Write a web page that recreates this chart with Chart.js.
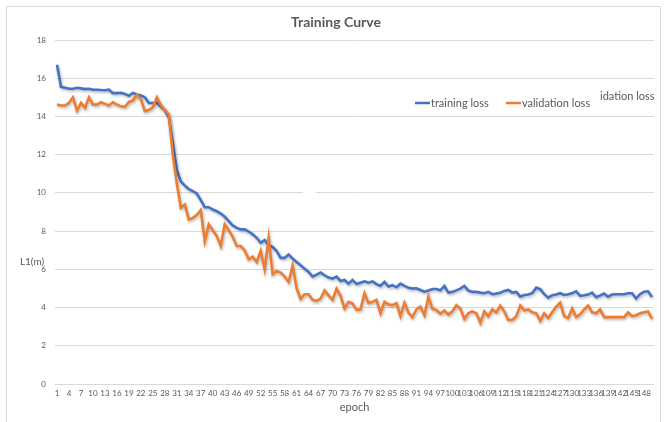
<!DOCTYPE html>
<html>
<head>
<meta charset="utf-8">
<script src="https://cdn.jsdelivr.net/npm/chart.js@4.4.1/dist/chart.umd.min.js"></script>
<style>
html,body{margin:0;padding:0;background:#fff;}
#wrap{width:669px;height:422px;position:relative;}
</style>
</head>
<body>
<div id="wrap"><canvas id="c" width="669" height="422"></canvas></div>
<script>
const epochs = [
1,2,3,4,5,6,7,8,9,10,11,12,13,14,15,16,17,18,19,20,
21,22,23,24,25,26,27,28,29,30,31,32,33,34,35,36,37,38,39,40,
41,42,43,44,45,46,47,48,49,50,51,52,53,54,55,56,57,58,59,60,
61,62,63,64,65,66,67,68,69,70,71,72,73,74,75,76,77,78,79,80,
81,82,83,84,85,86,87,88,89,90,91,92,93,94,95,96,97,98,99,100,
101,102,103,104,105,106,107,108,109,110,111,112,113,114,115,116,117,118,119,120,
121,122,123,124,125,126,127,128,129,130,131,132,133,134,135,136,137,138,139,140,
141,142,143,144,145,146,147,148,149,150];

const trainingLoss = [
16.7,15.55,15.5,15.45,15.45,15.5,15.47,15.43,15.45,15.4,
15.4,15.38,15.37,15.4,15.22,15.22,15.24,15.18,15.08,15.23,
15.15,15.1,15.0,14.7,14.7,14.72,14.5,14.33,13.95,12.6,
11.2,10.6,10.38,10.2,10.09,9.97,9.62,9.25,9.25,9.13,
9.04,8.92,8.75,8.52,8.3,8.17,8.09,8.09,7.98,7.83,
7.65,7.39,7.53,7.25,7.18,6.96,6.6,6.6,6.78,6.56,
6.38,6.21,6.03,5.86,5.62,5.72,5.83,5.69,5.57,5.51,
5.62,5.39,5.44,5.25,5.44,5.23,5.3,5.37,5.3,5.37,
5.23,5.13,5.34,5.1,5.17,5.06,5.25,5.13,5.04,4.99,
5.01,4.92,4.83,4.89,4.97,4.97,4.9,5.13,4.78,4.82,
4.9,4.99,5.13,4.89,4.82,4.82,4.78,4.75,4.82,4.7,
4.73,4.78,4.87,4.92,4.78,4.82,4.57,4.66,4.68,4.75,
5.04,4.96,4.7,4.52,4.64,4.68,4.75,4.66,4.7,4.75,
4.85,4.61,4.64,4.68,4.78,4.54,4.63,4.73,4.57,4.68,
4.7,4.7,4.7,4.75,4.75,4.47,4.7,4.83,4.85,4.55];

const validationLoss = [
14.62,14.57,14.57,14.71,15.0,14.31,14.71,14.45,15.0,14.62,
14.62,14.74,14.66,14.57,14.74,14.62,14.53,14.5,14.76,14.83,
15.14,14.91,14.28,14.34,14.48,15.0,14.59,14.33,14.1,12.0,
10.5,9.22,9.39,8.61,8.68,8.85,9.1,7.48,8.35,8.05,
7.74,7.22,8.35,8.05,7.7,7.22,7.22,6.99,6.52,6.66,
6.38,6.96,6.0,7.65,5.74,5.91,5.83,5.62,5.34,6.2,
5.0,4.45,4.7,4.7,4.4,4.35,4.47,4.9,4.64,4.4,
4.99,4.61,3.95,4.3,4.21,3.88,3.91,4.75,4.23,4.3,
4.4,3.7,4.3,4.17,4.12,4.23,3.55,4.26,3.74,3.5,
3.91,4.05,3.6,4.57,3.93,3.87,3.68,3.85,3.63,3.8,
4.12,3.95,3.4,3.7,3.8,3.7,3.2,3.8,3.55,3.9,
3.75,4.1,3.8,3.35,3.35,3.55,4.1,3.85,3.9,3.75,
3.7,3.3,3.7,3.45,3.75,4.05,4.25,3.55,3.45,3.95,
3.5,3.65,3.9,4.1,3.75,3.7,3.9,3.5,3.5,3.5,
3.5,3.5,3.5,3.75,3.55,3.6,3.7,3.75,3.8,3.4];

const seriesNames = ['training loss', 'validation loss'];
const titleText = 'Training Curve';
const xTitle = 'epoch';
const yTitle = 'L1(m)';
const ghostText = 'idation loss';

const BLUE = '#4472C4', ORANGE = '#ED7D31', TXT = '#595959', GRID = '#d9d9d9';
const FONT = 'Lato, "Open Sans", sans-serif';

const deco = {
  id: 'deco',
  beforeDraw(chart) {
    const c = chart.ctx;
    c.save();
    c.fillStyle = '#fff';
    c.fillRect(0, 0, chart.width, chart.height);
    c.strokeStyle = GRID;
    c.lineWidth = 1;
    c.strokeRect(6.5, 6.5, 654, 440);
    c.restore();
  },
  beforeDatasetsDraw(chart) {
    const c = chart.ctx;
    // small break in the "10" gridline seen in the original
    c.save();
    c.fillStyle = '#fff';
    const y10 = chart.scales.y.getPixelForValue(10);
    c.fillRect(303, y10 - 2, 13, 4);
    c.restore();
    c.save();
    c.shadowColor = 'rgba(0,0,0,0.30)';
    c.shadowBlur = 3;
    c.shadowOffsetX = 1;
    c.shadowOffsetY = 1.5;
  },
  afterDatasetsDraw(chart) {
    chart.ctx.restore();
  },
  afterDraw(chart) {
    const c = chart.ctx;
    c.save();
    // title
    c.font = 'bold 14px ' + FONT;
    c.fillStyle = TXT;
    c.textAlign = 'center';
    c.textBaseline = 'middle';
    c.fillText(titleText, 336, 22);
    // legend
    c.textAlign = 'left';
    c.font = '11px ' + FONT;
    const items = [{x: 415, color: BLUE, t: seriesNames[0]}, {x: 506, color: ORANGE, t: seriesNames[1]}];
    items.forEach(it => {
      c.strokeStyle = it.color;
      c.lineWidth = 2.5;
      c.beginPath();
      c.moveTo(it.x, 103);
      c.lineTo(it.x + 15, 103);
      c.stroke();
      c.fillText(it.t, it.x + 16, 103);
    });
    c.fillText(ghostText, 600, 96);
    // y axis title
    c.font = '10px ' + FONT;
    c.textAlign = 'center';
    c.fillText(yTitle, 32, 262);
    c.restore();
  }
};

new Chart(document.getElementById('c'), {
  type: 'line',
  data: {
    labels: epochs,
    datasets: [
      {label: seriesNames[0], data: trainingLoss, borderColor: BLUE, backgroundColor: BLUE,
       borderWidth: 2.6, pointRadius: 0, tension: 0, order: 1},
      {label: seriesNames[1], data: validationLoss, borderColor: ORANGE, backgroundColor: ORANGE,
       borderWidth: 2.6, pointRadius: 0, tension: 0, order: 0}
    ]
  },
  options: {
    responsive: false,
    animation: false,
    devicePixelRatio: 1,
    layout: {padding: {left: 0, right: 15, top: 40, bottom: 0}},
    plugins: {
      legend: {display: false},
      tooltip: {enabled: false},
      title: {display: false}
    },
    scales: {
      x: {
        offset: true,
        grid: {display: false, drawTicks: false},
        border: {display: false},
        ticks: {
          autoSkip: false, maxRotation: 0, minRotation: 0, padding: 5,
          color: TXT, font: {family: FONT, size: 8},
          callback: function(v, i) { return i % 3 === 0 ? this.getLabelForValue(v) : ''; }
        },
        title: {display: true, text: xTitle, color: TXT, font: {family: FONT, size: 11},
                padding: {top: 0, bottom: 8}},
        afterFit(s) { s.height = 38; }
      },
      y: {
        min: 0, max: 18,
        grid: {color: GRID, drawTicks: false},
        border: {display: false},
        ticks: {stepSize: 2, padding: 9, color: TXT, font: {family: FONT, size: 8}},
        afterFit(s) { s.width = 55; }
      }
    }
  },
  plugins: [deco]
});
</script>
</body>
</html>
